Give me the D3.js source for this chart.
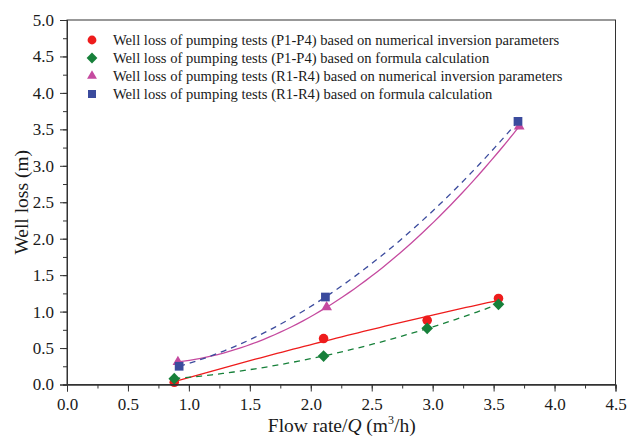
<!DOCTYPE html>
<html>
<head>
<meta charset="utf-8">
<script src="https://cdn.jsdelivr.net/npm/d3@7"></script>
<style>
	body { margin: 0; background: #fff; }
	svg text { font-family: "Liberation Serif", "Times New Roman", serif; fill: #1a1a1a; }
</style>
</head>
<body>
<div id="chart"></div>
<script>
// flow rate Q (m3/h) and well loss (m) for each test group
var qP = [0.88, 2.105, 2.955, 3.54];
var lossPNum = [0.03, 0.63, 0.88, 1.18];
var lossPFormula = [0.08, 0.39, 0.77, 1.10];
var qRNum = [0.91, 2.13, 3.71];
var lossRNum = [0.31, 1.06, 3.54];
var qRFormula = [0.92, 2.12, 3.70];
var lossRFormula = [0.25, 1.20, 3.61];

var legendLabels = [
	"Well loss of pumping tests (P1-P4) based on numerical inversion parameters",
	"Well loss of pumping tests (P1-P4) based on formula calculation",
	"Well loss of pumping tests (R1-R4) based on numerical inversion parameters",
	"Well loss of pumping tests (R1-R4) based on formula calculation"
];
var xTicks = [0, 0.5, 1, 1.5, 2, 2.5, 3, 3.5, 4, 4.5];
var yTicks = [0, 0.5, 1, 1.5, 2, 2.5, 3, 3.5, 4, 4.5, 5];

var width = 627, height = 442;
var margin = {top: 20, right: 11.5, bottom: 57.5, left: 67};
var w = width - margin.left - margin.right, h = height - margin.top - margin.bottom;

var svg = d3.select("#chart").append("svg")
	.attr("width", width)
	.attr("height", height);
var g = svg.append("g").attr("transform", "translate(" + margin.left + "," + margin.top + ")");

var x = d3.scaleLinear().domain([0, 4.5]).range([0, w]);
var y = d3.scaleLinear().domain([0, 5]).range([h, 0]);

// least squares fit of a + b*q + c*q^2
function quadFit(xs, ys) {
	var s = [0, 0, 0, 0, 0], t = [0, 0, 0];
	xs.forEach(function(q, i) {
		for (var k = 0; k < 5; k++) s[k] += Math.pow(q, k);
		for (var k = 0; k < 3; k++) t[k] += ys[i] * Math.pow(q, k);
	});
	var m = [[s[0], s[1], s[2], t[0]], [s[1], s[2], s[3], t[1]], [s[2], s[3], s[4], t[2]]];
	for (var i = 0; i < 3; i++) {
		for (var j = i + 1; j < 3; j++) {
			var f = m[j][i] / m[i][i];
			for (var k = i; k < 4; k++) m[j][k] -= f * m[i][k];
		}
	}
	var c = [0, 0, 0];
	for (var i = 2; i >= 0; i--) {
		var v = m[i][3];
		for (var k = i + 1; k < 3; k++) v -= m[i][k] * c[k];
		c[i] = v / m[i][i];
	}
	return function(q) { return c[0] + c[1] * q + c[2] * q * q; };
}

var series = [
	{q: qP, loss: lossPNum, color: "#ee1c1c", symbol: d3.symbolCircle, size: 72, rot: 0, dash: null},
	{q: qP, loss: lossPFormula, color: "#17803a", symbol: d3.symbolSquare, size: 68, rot: 45, dash: "6,5"},
	{q: qRNum, loss: lossRNum, color: "#c54a9f", symbol: d3.symbolTriangle, size: 50, rot: 0, dash: null},
	{q: qRFormula, loss: lossRFormula, color: "#3b4b9d", symbol: d3.symbolSquare, size: 76, rot: 0, dash: "6,5"}
];

// fitted curves
var line = d3.line().x(function(d) { return x(d[0]); }).y(function(d) { return y(d[1]); });
series.forEach(function(s) {
	var fit = quadFit(s.q, s.loss);
	var lo = d3.min(s.q), hi = d3.max(s.q);
	var pts = d3.range(0, 61).map(function(i) {
		var q = lo + (hi - lo) * i / 60;
		return [q, fit(q)];
	});
	g.append("path")
		.attr("d", line(pts))
		.attr("fill", "none")
		.attr("stroke", s.color)
		.attr("stroke-width", 1.3)
		.attr("stroke-dasharray", s.dash);
});

// markers
series.forEach(function(s) {
	g.selectAll(null)
		.data(s.q.map(function(q, i) { return [q, s.loss[i]]; }))
		.enter().append("path")
		.attr("d", d3.symbol().type(s.symbol).size(s.size))
		.attr("transform", function(d) { return "translate(" + x(d[0]) + "," + y(d[1]) + ") rotate(" + s.rot + ")"; })
		.attr("fill", s.color);
});

// frame
g.append("rect")
	.attr("width", w).attr("height", h)
	.attr("fill", "none").attr("stroke", "#333").attr("stroke-width", 1);

// axes with minor ticks
var minorX = d3.range(0, 4.51, 0.25), minorY = d3.range(0, 5.01, 0.25);
g.append("g").attr("transform", "translate(0," + h + ")")
	.call(d3.axisBottom(x).tickValues(minorX).tickSize(4).tickFormat(""));
g.append("g").attr("transform", "translate(0," + h + ")")
	.call(d3.axisBottom(x).tickValues(xTicks).tickSize(7).tickPadding(6).tickFormat(d3.format(".1f")));
g.append("g")
	.call(d3.axisLeft(y).tickValues(minorY).tickSize(4).tickFormat(""));
g.append("g")
	.call(d3.axisLeft(y).tickValues(yTicks).tickSize(7).tickPadding(6).tickFormat(d3.format(".1f")));

g.selectAll(".tick text")
	.attr("font-size", 17)
	.style("font-family", "'Liberation Serif', 'Times New Roman', serif");
g.selectAll(".domain, .tick line").attr("stroke", "#333");

// axis titles
var xt = svg.append("text")
	.attr("x", margin.left + w / 2 + 0.5).attr("y", 432)
	.attr("text-anchor", "middle").attr("font-size", 19.5);
xt.append("tspan").text("Flow rate/");
xt.append("tspan").attr("font-style", "italic").text("Q");
xt.append("tspan").text(" (m");
xt.append("tspan").attr("font-size", 12).attr("dy", -8).text("3");
xt.append("tspan").attr("dy", 8).text("/h)");

svg.append("text")
	.attr("transform", "translate(28," + (margin.top + h / 2) + ") rotate(-90)")
	.attr("text-anchor", "middle").attr("font-size", 19.5)
	.text("Well loss (m)");

// legend
var legend = svg.append("g").attr("transform", "translate(92,40)");
series.forEach(function(s, i) {
	var row = legend.append("g").attr("transform", "translate(0," + i * 18 + ")");
	row.append("path")
		.attr("d", d3.symbol().type(s.symbol).size(s.size * 0.85))
		.attr("transform", "rotate(" + s.rot + ")")
		.attr("fill", s.color);
	row.append("text")
		.attr("x", 21).attr("y", 5)
		.attr("font-size", 14.6)
		.text(legendLabels[i]);
});
</script>
</body>
</html>
